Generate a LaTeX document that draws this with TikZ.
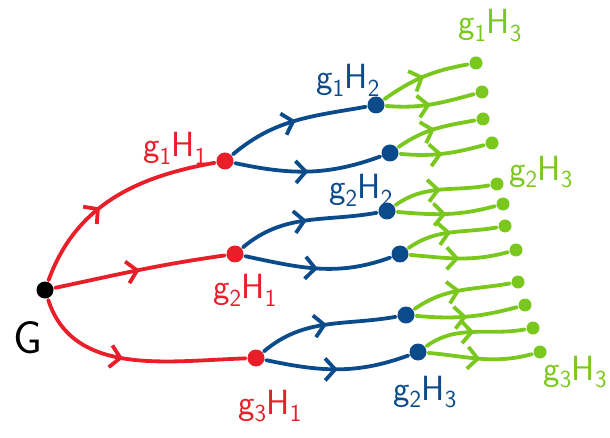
\documentclass[tikz,border=0pt]{standalone}
\usepackage{tikz}
\usetikzlibrary{arrows.meta,decorations.markings}
\definecolor{treered}{RGB}{232,30,40}
\definecolor{treeblue}{RGB}{10,75,140}
\definecolor{treegreen}{RGB}{122,200,30}
\newcommand{\gH}[2]{g\textsubscript{#1}H\textsubscript{#2}}

\begin{document}
\begin{tikzpicture}[x=1pt,y=1pt,line width=3.8pt,line cap=round,
   font=\sffamily\fontsize{35}{38}\selectfont,
   dot/.style={circle,inner sep=0pt,minimum size=#1},
   dot/.default=17pt,
   midarrow/.style={postaction={decorate},decoration={markings,
     mark=at position #1 with {\arrow{Straight Barb[length=10pt,width=22pt]}}}},
   midarrow/.default=0.5]
  \useasboundingbox (0,0) rectangle (610,-438);
  % root and first cosets
  \node[dot,fill=black] (G) at (45,-290) {};
  \node[dot,fill=treered] (a1) at (225,-161) {};
  \node[dot,fill=treered] (a2) at (235,-254) {};
  \node[dot,fill=treered] (a3) at (256,-358) {};
  % second level
  \node[dot,fill=treeblue] (b11) at (376,-105) {};
  \node[dot,fill=treeblue] (b12) at (390,-153) {};
  \node[dot,fill=treeblue] (b21) at (387,-211) {};
  \node[dot,fill=treeblue] (b22) at (400,-254) {};
  \node[dot,fill=treeblue] (b31) at (406,-315) {};
  \node[dot,fill=treeblue] (b32) at (418,-352) {};
  % third level
  \node[dot=13pt,fill=treegreen] (c111) at (476,-63) {};
  \node[dot=13pt,fill=treegreen] (c112) at (482,-92) {};
  \node[dot=13pt,fill=treegreen] (c121) at (483,-119) {};
  \node[dot=13pt,fill=treegreen] (c122) at (492,-143) {};
  \node[dot=13pt,fill=treegreen] (c211) at (497,-184) {};
  \node[dot=13pt,fill=treegreen] (c212) at (503,-204) {};
  \node[dot=13pt,fill=treegreen] (c221) at (505,-226) {};
  \node[dot=13pt,fill=treegreen] (c222) at (516,-250) {};
  \node[dot=13pt,fill=treegreen] (c311) at (518,-282) {};
  \node[dot=13pt,fill=treegreen] (c312) at (525,-305) {};
  \node[dot=13pt,fill=treegreen] (c321) at (533,-328) {};
  \node[dot=13pt,fill=treegreen] (c322) at (540,-352) {};

  \draw[treered,midarrow=0.42] (G) to[out=70,in=190] (a1);
  \draw[treered,midarrow] (G) to[out=12,in=188] (a2);
  \draw[treered,midarrow=0.45] (G) to[out=-72,in=182] (a3);

  \draw[treeblue,midarrow] (a1) to[out=40,in=190] (b11);
  \draw[treeblue,midarrow] (a1) to[out=-12,in=200] (b12);
  \draw[treeblue,midarrow] (a2) to[out=40,in=190] (b21);
  \draw[treeblue,midarrow] (a2) to[out=-12,in=200] (b22);
  \draw[treeblue,midarrow] (a3) to[out=40,in=190] (b31);
  \draw[treeblue,midarrow] (a3) to[out=-12,in=200] (b32);

  \draw[treegreen,midarrow] (b11) to[out=35,in=190] (c111);
  \draw[treegreen,midarrow] (b11) to[out=-5,in=195] (c112);
  \draw[treegreen,midarrow] (b12) to[out=35,in=190] (c121);
  \draw[treegreen,midarrow] (b12) to[out=-5,in=195] (c122);
  \draw[treegreen,midarrow] (b21) to[out=35,in=190] (c211);
  \draw[treegreen,midarrow] (b21) to[out=-5,in=195] (c212);
  \draw[treegreen,midarrow] (b22) to[out=35,in=190] (c221);
  \draw[treegreen,midarrow] (b22) to[out=-5,in=195] (c222);
  \draw[treegreen,midarrow] (b31) to[out=35,in=190] (c311);
  \draw[treegreen,midarrow] (b31) to[out=-5,in=195] (c312);
  \draw[treegreen,midarrow] (b32) to[out=35,in=190] (c321);
  \draw[treegreen,midarrow] (b32) to[out=-5,in=195] (c322);

  % labels
  \node[font=\sffamily\fontsize{46}{48}\selectfont] (Glbl) at (28,-338) {G};
  \node[treered] (a1lbl) at (175,-148) {\gH{1}{1}};
  \node[treered] (a2lbl) at (245,-290) {\gH{2}{1}};
  \node[treered] (a3lbl) at (270,-406) {\gH{3}{1}};
  \node[treeblue] (b1lbl) at (348,-80) {\gH{1}{2}};
  \node[treeblue] (b2lbl) at (361,-190) {\gH{2}{2}};
  \node[treeblue] (b3lbl) at (425,-392) {\gH{2}{3}};
  \node[treegreen] (c1lbl) at (490,-26) {\gH{1}{3}};
  \node[treegreen] (c2lbl) at (541,-172) {\gH{2}{3}};
  \node[treegreen,anchor=east,inner xsep=1pt] (c3lbl) at (610,-372) {\gH{3}{3}};
\end{tikzpicture}
\end{document}
